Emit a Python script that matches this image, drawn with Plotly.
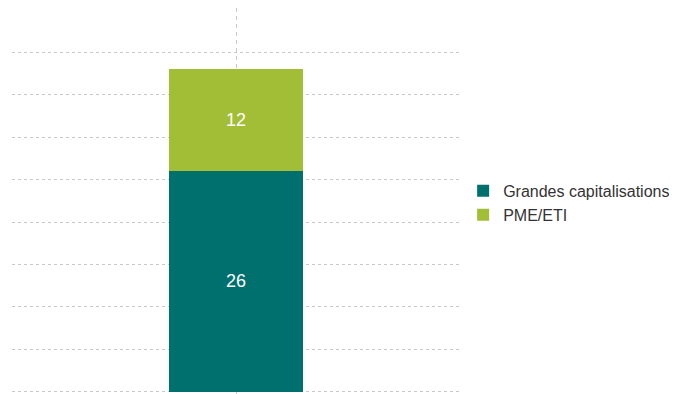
import plotly.graph_objects as go

categories = [""]
grandes = [26]
pme = [12]
series_names = ["Grandes capitalisations", "PME/ETI"]
tick_vals = [0, 5, 10, 15, 20, 25, 30, 35, 40]

label_font = dict(color="white", size=18, family="Liberation Sans, Arial")

fig = go.Figure()
fig.add_trace(go.Bar(x=categories, y=grandes, name=series_names[0],
                     marker=dict(color="#00706F", line=dict(width=0)),
                     text=[str(v) for v in grandes], textposition="inside",
                     insidetextanchor="middle", textfont=label_font,
                     width=0.3))
fig.add_trace(go.Bar(x=categories, y=pme, name=series_names[1],
                     marker=dict(color="#A2BE37", line=dict(width=0)),
                     text=[str(v) for v in pme], textposition="inside",
                     insidetextanchor="middle", textfont=label_font,
                     width=0.3))

fig.update_layout(
    barmode="stack",
    width=669, height=386,
    margin=dict(l=4, r=217, t=0, b=0),
    plot_bgcolor="white", paper_bgcolor="white",
    font=dict(family="Liberation Sans, Arial", size=16, color="#333333"),
    showlegend=True,
    legend=dict(x=1.007, y=0.495, xanchor="left", yanchor="middle",
                traceorder="normal", font=dict(size=16, color="#333333"),
                bgcolor="rgba(0,0,0,0)", tracegroupgap=0),
    uniformtext=dict(mode="show", minsize=10),
)
fig.update_xaxes(showgrid=True, gridcolor="#c8c8c8", griddash="4px,4px", gridwidth=1,
                 showticklabels=False, showline=False, zeroline=False,
                 range=[-0.5, 0.5], ticks="")
fig.update_yaxes(showgrid=True, gridcolor="#c8c8c8", griddash="3px,3px", gridwidth=1,
                 tickvals=tick_vals, showticklabels=False, showline=False,
                 zeroline=False, range=[-0.25, 45.2], ticks="")

fig.write_html("out.html")
